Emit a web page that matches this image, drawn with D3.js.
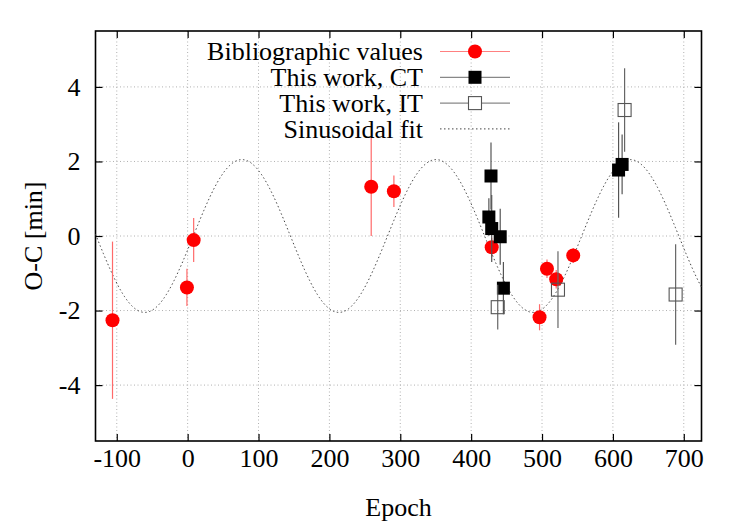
<!DOCTYPE html>
<html>
<head>
<meta charset="utf-8">
<script src="https://cdn.jsdelivr.net/npm/d3@7"></script>
<style>
  body { margin: 0; background: #fff; }
</style>
</head>
<body>
<div id="viz"></div>
<script>
// bibliographic values: epoch, O-C, error
var bibEpoch = [-106, -1, 8.5, 259, 291, 429, 507, 520, 544, 496.5];
var bibOC    = [-2.26, -1.38, -0.11, 1.32, 1.20, -0.30, -0.88, -1.16, -0.52, -2.18];
var bibErr   = [2.11, 0.5, 0.59, 1.32, 0.42, 0.25, 0.25, 0.25, 0.2, 0.35];

// this work, CT
var ctEpoch = [428, 425, 429, 441, 445.5, 608, 613];
var ctOC    = [1.61, 0.51, 0.20, -0.02, -1.40, 1.77, 1.92];
var ctErr   = [0.9, 0.5, 0.9, 0.75, 0.7, 1.28, 0.8];

// this work, IT
var itEpoch = [437.5, 522.5, 616.5, 688.5];
var itOC    = [-1.91, -1.44, 3.38, -1.57];
var itErr   = [0.6, 1.03, 1.12, 1.35];

// sinusoidal fit parameters
var fitAmp = 2.05, fitPeriod = 274, fitZero = 8;

var xTicks = [-100, 0, 100, 200, 300, 400, 500, 600, 700];
var yTicks = [-4, -2, 0, 2, 4];

var w = 750, h = 525;
var pL = 95.5, pR = 701.5, pT = 31, pB = 441;
var serif = "'Liberation Serif', 'Times New Roman', Tinos, serif";

var svg = d3.select('#viz').append('svg')
  .attr('width', w).attr('height', h)
  .style('font-family', serif);

var x = d3.scaleLinear().domain([-130, 725]).range([pL, pR]);
var y = d3.scaleLinear().domain([-5.5, 5.5]).range([pB, pT]);

// grid
svg.append('g').selectAll('line').data(xTicks).enter().append('line')
  .attr('x1', d => x(d)).attr('x2', d => x(d))
  .attr('y1', pT).attr('y2', pB)
  .attr('stroke', '#b0b0b0').attr('stroke-width', 1).attr('stroke-dasharray', '1,2.5');
svg.append('g').selectAll('line').data(yTicks).enter().append('line')
  .attr('y1', d => y(d)).attr('y2', d => y(d))
  .attr('x1', pL).attr('x2', pR)
  .attr('stroke', '#b0b0b0').attr('stroke-width', 1).attr('stroke-dasharray', '1,2.5');

// axes, inward ticks on all sides
var fs = '26px';
var fmt = d => String(d);
var xAx = svg.append('g').attr('transform', 'translate(0,' + pB + ')')
  .call(d3.axisBottom(x).tickValues(xTicks).tickSize(-7).tickPadding(21).tickFormat(fmt));
var xAxT = svg.append('g').attr('transform', 'translate(0,' + pT + ')')
  .call(d3.axisTop(x).tickValues(xTicks).tickSize(-7).tickFormat(''));
var yAx = svg.append('g').attr('transform', 'translate(' + pL + ',0)')
  .call(d3.axisLeft(y).tickValues(yTicks).tickSize(-7).tickPadding(15).tickFormat(fmt));
var yAxR = svg.append('g').attr('transform', 'translate(' + pR + ',0)')
  .call(d3.axisRight(y).tickValues(yTicks).tickSize(-7).tickFormat(''));
[xAx, xAxT, yAx, yAxR].forEach(function(g) {
  g.attr('font-family', null);
  g.select('.domain').remove();
  g.selectAll('line').attr('stroke', '#000').attr('stroke-width', 1.2);
  g.selectAll('text').attr('font-size', fs).attr('fill', '#000').style('font-family', serif);
});
xAx.selectAll('text').attr('dy', '0.2em');

svg.append('rect').attr('x', pL).attr('y', pT)
  .attr('width', pR - pL).attr('height', pB - pT)
  .attr('fill', 'none').attr('stroke', '#000').attr('stroke-width', 1.6);

// sinusoidal fit
var fitX = d3.range(-130, 725.5, 1);
svg.append('path')
  .datum(fitX)
  .attr('d', d3.line().x(d => x(d)).y(d => y(fitAmp * Math.sin(2 * Math.PI * (d - fitZero) / fitPeriod))))
  .attr('fill', 'none').attr('stroke', '#444').attr('stroke-width', 1)
  .attr('stroke-dasharray', '1.5,2.5');

function series(ex, oc, er) {
  return ex.map((d, i) => ({ e: d, v: oc[i], s: er[i] }));
}
var bib = series(bibEpoch, bibOC, bibErr);
var ct = series(ctEpoch, ctOC, ctErr);
var it = series(itEpoch, itOC, itErr);

function bars(data, col) {
  svg.append('g').selectAll('line').data(data).enter().append('line')
    .attr('x1', d => x(d.e)).attr('x2', d => x(d.e))
    .attr('y1', d => y(d.v + d.s)).attr('y2', d => y(d.v - d.s))
    .attr('stroke', col).attr('stroke-width', 1.2);
}

bars(bib, '#ff6a6a');
svg.append('g').selectAll('circle').data(bib).enter().append('circle')
  .attr('cx', d => x(d.e)).attr('cy', d => y(d.v)).attr('r', 7)
  .attr('fill', '#ff0000');

bars(ct, '#555');
svg.append('g').selectAll('rect').data(ct).enter().append('rect')
  .attr('x', d => x(d.e) - 6.5).attr('y', d => y(d.v) - 6.5)
  .attr('width', 13).attr('height', 13).attr('fill', '#000');

bars(it, '#666');
svg.append('g').selectAll('rect').data(it).enter().append('rect')
  .attr('x', d => x(d.e) - 6.5).attr('y', d => y(d.v) - 6.5)
  .attr('width', 13).attr('height', 13).attr('fill', 'none')
  .attr('stroke', '#555').attr('stroke-width', 1.1);

// legend
var legend = [
  { t: 'Bibliographic values', col: '#ff8080', m: 'circle' },
  { t: 'This work, CT', col: '#888', m: 'fill' },
  { t: 'This work, IT', col: '#888', m: 'open' },
  { t: 'Sinusoidal fit', col: '#888', m: 'fit' }
];
var lg = svg.append('g');
legend.forEach(function(d, i) {
  var ly = 51.5 + i * 25.8;
  lg.append('text').attr('x', 423).attr('y', ly).attr('dy', '0.34em')
    .attr('text-anchor', 'end').attr('font-size', fs).text(d.t);
  var ln = lg.append('line').attr('x1', 440).attr('x2', 510).attr('y1', ly).attr('y2', ly)
    .attr('stroke', d.m == 'fit' ? '#444' : d.col).attr('stroke-width', d.m == 'fit' ? 1 : 1.2);
  if (d.m == 'fit') ln.attr('stroke-dasharray', '1.5,2.5');
  if (d.m == 'circle') lg.append('circle').attr('cx', 475).attr('cy', ly).attr('r', 7).attr('fill', '#ff0000');
  if (d.m == 'fill') lg.append('rect').attr('x', 468.5).attr('y', ly - 6.5).attr('width', 13).attr('height', 13).attr('fill', '#000');
  if (d.m == 'open') lg.append('rect').attr('x', 468.5).attr('y', ly - 6.5).attr('width', 13).attr('height', 13)
    .attr('fill', '#fff').attr('stroke', '#555').attr('stroke-width', 1.1);
});

// axis titles
svg.append('text').attr('x', (pL + pR) / 2).attr('y', 507).attr('dy', '0.34em')
  .attr('text-anchor', 'middle').attr('font-size', fs).text('Epoch');
svg.append('text').attr('transform', 'translate(33,' + y(0) + ') rotate(-90)')
  .attr('dy', '0.34em').attr('text-anchor', 'middle').attr('font-size', fs).text('O-C [min]');
</script>
</body>
</html>
